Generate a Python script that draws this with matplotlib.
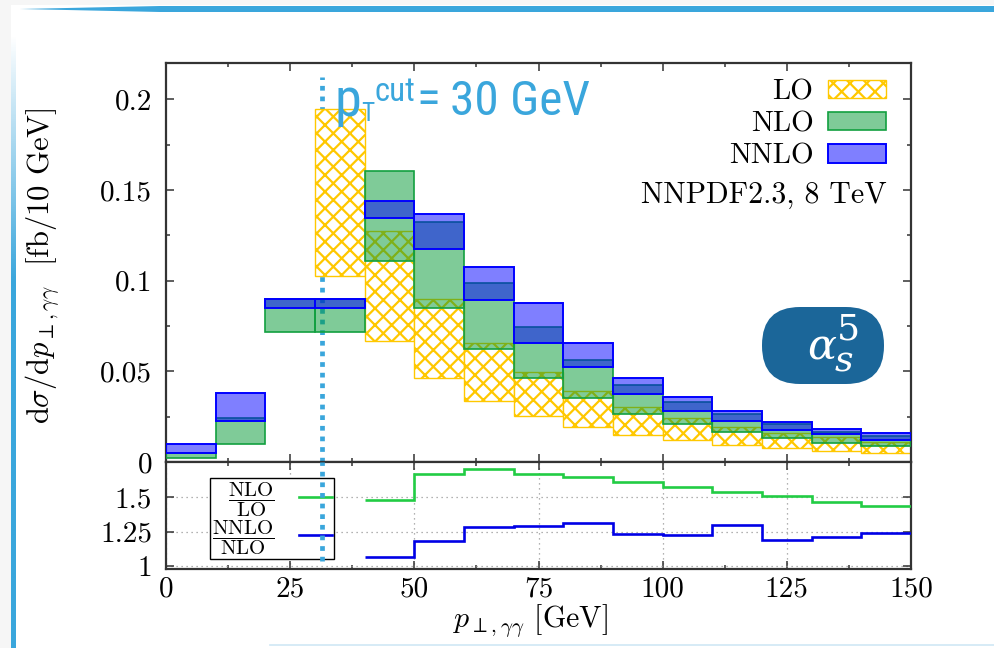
import numpy as np
import matplotlib
matplotlib.use("Agg")
import matplotlib.pyplot as plt
from matplotlib.patches import Patch, Polygon, Rectangle, FancyBboxPatch
from matplotlib.lines import Line2D
from matplotlib.transforms import IdentityTransform
from matplotlib.ticker import MultipleLocator

plt.rcParams['font.family'] = 'serif'
plt.rcParams['font.serif'] = ['cmr10']
plt.rcParams['mathtext.fontset'] = 'cm'
plt.rcParams['axes.formatter.use_mathtext'] = True
plt.rcParams['hatch.linewidth'] = 1.6

# bins in p_T (GeV), lower edges, width 10
bin_lo = [0, 10, 20, 30, 40, 50, 60, 70, 80, 90, 100, 110, 120, 130, 140]
nan = np.nan
lo_low = [nan, nan, nan, 0.1028, 0.0667, 0.0461, 0.0336, 0.0253, 0.0195, 0.0149, 0.0121, 0.0094, 0.0079, 0.0061, 0.0051]
lo_high = [nan, nan, nan, 0.1949, 0.1276, 0.0896, 0.0654, 0.0498, 0.0393, 0.0305, 0.0241, 0.0195, 0.0158, 0.0136, 0.0112]
nlo_low = [0.0020, 0.0097, 0.0718, 0.0718, 0.1110, 0.0847, 0.0621, 0.0465, 0.0351, 0.0264, 0.0208, 0.0163, 0.0131, 0.0106, 0.0088]
nlo_high = [0.0048, 0.0240, 0.0900, 0.0900, 0.1605, 0.1324, 0.0985, 0.0742, 0.0562, 0.0424, 0.0329, 0.0263, 0.0208, 0.0163, 0.0145]
nnlo_low = [0.0048, 0.0227, 0.0847, 0.0847, 0.1348, 0.1177, 0.0893, 0.0654, 0.0522, 0.0373, 0.0283, 0.0226, 0.0176, 0.0154, 0.0121]
nnlo_high = [0.0097, 0.0382, 0.0896, 0.0896, 0.1440, 0.1370, 0.1073, 0.0874, 0.0657, 0.0461, 0.0360, 0.0283, 0.0222, 0.0180, 0.0162]

# ratio panel, bins from 40 to 150
ratio_edges = [40, 50, 60, 70, 80, 90, 100, 110, 120, 130, 140, 150]
nlo_over_lo = [1.48, 1.67, 1.705, 1.67, 1.646, 1.614, 1.573, 1.541, 1.51, 1.468, 1.436]
nnlo_over_nlo = [1.061, 1.183, 1.285, 1.29, 1.314, 1.232, 1.224, 1.297, 1.188, 1.208, 1.241]

pt_cut_line = 31.5

W, H = 994, 648
fig = plt.figure(figsize=(W / 100, H / 100), dpi=100)
fig.patch.set_facecolor('white')

def fx(x):
    return x / W

def fy(y):
    return 1 - y / H

yellow = '#ffc800'
green_edge = '#12a040'
green_face = (0.0, 0.6, 0.2, 0.5)
blue_face = (0.0, 0.0, 1.0, 0.5)
blue_edge = '#0000ff'
cut_blue = '#3aa6dc'
frame_col = '#333333'

ax = fig.add_axes([fx(166), fy(462), fx(911) - fx(166), fy(63) - fy(462)])
axr = fig.add_axes([fx(166), fy(569), fx(911) - fx(166), fy(462) - fy(569)], sharex=ax)


def bands(a, low, high, **kw):
    low = np.array(low)
    high = np.array(high)
    x = np.array(bin_lo, dtype=float)
    m = ~np.isnan(low)
    a.bar(x[m], high[m] - low[m], width=10, bottom=low[m], align='edge', **kw)


bands(ax, lo_low, lo_high, facecolor='white', edgecolor=yellow, hatch='xx', linewidth=1.0, zorder=2)
bands(ax, nlo_low, nlo_high, facecolor=green_face, edgecolor=green_edge, linewidth=1.2, zorder=3)
bands(ax, nnlo_low, nnlo_high, facecolor=blue_face, edgecolor=blue_edge, linewidth=1.4, zorder=4)

ax.plot([pt_cut_line, pt_cut_line], [0, 0.2125], color=cut_blue, lw=3.4,
        dashes=(1.0, 1.25), dash_capstyle='butt', zorder=1.5)

ax.set_xlim(0, 150)
ax.set_ylim(0, 0.22)
ax.set_yticks([0, 0.05, 0.1, 0.15, 0.2])
ax.set_yticklabels(['0', '0.05', '0.1', '0.15', '0.2'])
ax.yaxis.set_minor_locator(MultipleLocator(0.025))
ax.xaxis.set_major_locator(MultipleLocator(25))
ax.xaxis.set_minor_locator(MultipleLocator(12.5))
ax.tick_params(axis='x', labelbottom=False)

for a in (ax, axr):
    for s in a.spines.values():
        s.set_color(frame_col)
        s.set_linewidth(1.6)
    a.tick_params(which='both', direction='in', top=True, right=True, colors=frame_col,
                  labelcolor='black', labelsize=21, width=1.1)
    a.tick_params(which='major', length=6)
    a.tick_params(which='minor', length=3)
    a.tick_params(axis='y', pad=10)
axr.tick_params(axis='x', pad=5)

leg_handles = [Patch(facecolor='white', edgecolor=yellow, hatch='xx', linewidth=1.0),
               Patch(facecolor=green_face, edgecolor=green_edge, linewidth=1.2),
               Patch(facecolor=blue_face, edgecolor=blue_edge, linewidth=1.4)]
ax.legend(leg_handles, ['LO', 'NLO', 'NNLO'], loc='upper right', bbox_to_anchor=(0.967, 0.96),
          markerfirst=False, frameon=False, fontsize=21, handlelength=2.0, handleheight=0.6,
          labelspacing=0.2, handletextpad=0.5, borderpad=0, borderaxespad=0)
ax.text(0.967, 0.669, 'NNPDF2.3, 8 TeV', transform=ax.transAxes, ha='right', va='center', fontsize=21.5)

# ratio panel
axr.stairs(nlo_over_lo, ratio_edges, baseline=None, color='#22cc44', lw=1.9, zorder=3)
axr.stairs(nnlo_over_nlo, ratio_edges, baseline=None, color='#0000e6', lw=1.9, zorder=3)
axr.set_ylim(0.976, 1.758)
axr.set_yticks([1, 1.25, 1.5])
axr.set_yticklabels(['1', '1.25', '1.5'])
axr.set_xticks([0, 25, 50, 75, 100, 125, 150])
axr.set_xticklabels(['0', '25', '50', '75', '100', '125', '150'])
axr.grid(True, which='major', linestyle=(0, (1, 3)), color='#999999', linewidth=0.9)
axr.set_axisbelow(True)

rleg = axr.legend([Line2D([], [], color='#22cc44', lw=1.9), Line2D([], [], color='#0000e6', lw=1.9)],
                  [r'$\dfrac{\mathrm{NLO}}{\mathrm{LO}}$', r'$\dfrac{\mathrm{NNLO}}{\mathrm{NLO}}$'],
                  loc='upper left', bbox_to_anchor=(0.059, 0.85), markerfirst=False, fontsize=15,
                  frameon=True, fancybox=False, edgecolor='black', framealpha=1, handlelength=1.55,
                  labelspacing=0.0, borderpad=0.1, handletextpad=1.2, borderaxespad=0)
rleg.get_frame().set_linewidth(1.0)
axr.plot([pt_cut_line, pt_cut_line], [1.034, 1.758], color=cut_blue, lw=3.4,
         dashes=(1.0, 1.25), dash_capstyle='butt', zorder=10)

fig.text(fx(43), fy(266), r'$\mathrm{d}\sigma/\mathrm{d}p_{\perp,\gamma\gamma}$  [fb/10 GeV]',
         rotation=90, ha='center', va='center', fontsize=22)
fig.text(fx(530), fy(621), r'$p_{\perp,\gamma\gamma}$ [GeV]', ha='center', va='center', fontsize=21.5)

# p_T^cut annotation, pieces placed one after another
renderer = fig.canvas.get_renderer()
cut_prop = dict(color=cut_blue, family=['Roboto Condensed', 'Open Sans Condensed', 'Noto Sans'],
                fontstretch='condensed', va='baseline', ha='left')

# scale the whole annotation so "30 GeV" is close to the reference width
probe = fig.text(0, 0, '30 GeV', fontsize=39, **cut_prop)
k = min(1.0, 140.0 / probe.get_window_extent(renderer).width)
probe.remove()


def piece(s, x, ybase, size):
    t = fig.text(fx(x), fy(ybase), s, fontsize=size * k, **cut_prop)
    return t.get_window_extent(renderer).x1


xr = piece('p', 334, 116, 43)
xr = piece('T', xr, 121, 20)
xr = piece('cut', xr + 1, 101, 26)
xr = piece('=', xr + 1, 113, 39)
piece('30 GeV', max(xr + 6, 450), 115, 39)

# alpha_s^5 badge
ident = IdentityTransform()
pill = FancyBboxPatch((762, H - 384), 122, 77, boxstyle='round,pad=0,rounding_size=38',
                      transform=ident, facecolor='#1b6699', edgecolor='none', zorder=20)
fig.add_artist(pill)
badge = dict(color='white', family='DejaVu Serif', va='baseline', ha='left', zorder=21)
fig.text(fx(807), fy(360), '\u03b1', fontsize=31, style='italic', **badge)
fig.text(fx(837), fy(339), '5', fontsize=26, **badge)
fig.text(fx(835), fy(372), 's', fontsize=26, style='italic', **badge)

# slide decorations
fig.add_artist(Rectangle((0, 0), 11, H, transform=ident, facecolor='#f6f6f6', edgecolor='none', zorder=0))
fig.add_artist(Rectangle((0, H - 5), W, 5, transform=ident, facecolor='#f6f6f6', edgecolor='none', zorder=0))
top_line = Polygon([(20, H - 9), (160, H - 6), (W, H - 6), (W, H - 12), (160, H - 12)],
                   closed=True, transform=ident, facecolor=cut_blue, edgecolor='none', zorder=1)
fig.add_artist(top_line)
fig.add_artist(Line2D([270, W], [3, 3], transform=ident, color='#cfe8f5', lw=1.2))

strip = fig.add_axes([fx(11), 0, fx(16) - fx(11), fy(35)])
n = 300
grad = np.zeros((n, 1, 4))
rgb = matplotlib.colors.to_rgb(cut_blue)
grad[:, 0, 0] = rgb[0]
grad[:, 0, 1] = rgb[1]
grad[:, 0, 2] = rgb[2]
grad[:, 0, 3] = np.clip(np.linspace(0, 1, n) / 0.4, 0, 1)
strip.imshow(grad, aspect='auto', extent=(0, 1, 1, 0), origin='upper')
strip.set_ylim(1, 0)
strip.axis('off')

fig.savefig('out.png', dpi=100)
